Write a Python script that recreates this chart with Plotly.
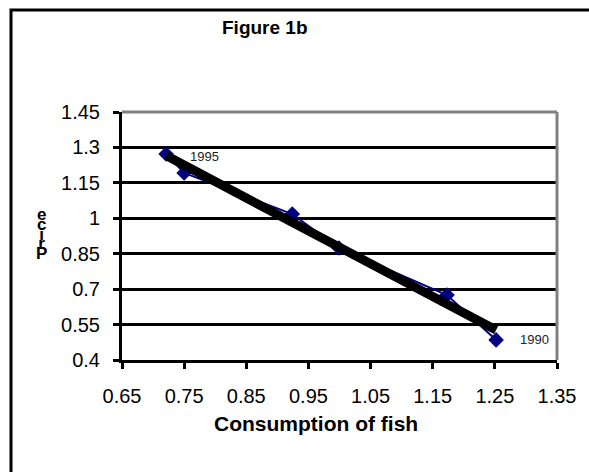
import numpy as np
import plotly.graph_objects as go

# Data
years = [1990, 1991, 1992, 1993, 1994, 1995]
consumption = [1.252, 1.173, 0.999, 0.924, 0.750, 0.721]
price = [0.485, 0.675, 0.874, 1.018, 1.192, 1.272]

x_ticks = [0.65, 0.75, 0.85, 0.95, 1.05, 1.15, 1.25, 1.35]
x_ticktext = ["0.65", "0.75", "0.85", "0.95", "1.05", "1.15", "1.25", "1.35"]
y_ticks = [0.4, 0.55, 0.7, 0.85, 1.0, 1.15, 1.3, 1.45]
y_ticktext = ["0.4", "0.55", "0.7", "0.85", "1", "1.15", "1.3", "1.45"]

title_text = "Figure 1b"
x_title = "Consumption of fish"
y_title = "Price"
point_labels = {1995: "1995", 1990: "1990"}

# Linear trend line (least squares, as in Excel)
slope, intercept = np.polyfit(consumption, price, 1)
trend_x = [min(consumption), max(consumption)]
trend_y = [slope * v + intercept for v in trend_x]

FONT = "Liberation Sans, Arial, sans-serif"
W, H = 589, 472
L, R, T, B = 122, 32, 112, 112
pw, ph = W - L - R, H - T - B


def px_to_paper(px, py):
    return (px - L) / pw, (H - B - py) / ph


fig = go.Figure()
fig.add_trace(go.Scatter(
    x=consumption, y=price, mode="lines+markers",
    line=dict(color="#000080", width=2),
    marker=dict(symbol="diamond", size=12, color="#000080"),
    showlegend=False, hoverinfo="skip",
))
fig.add_trace(go.Scatter(
    x=trend_x, y=trend_y, mode="lines",
    line=dict(color="black", width=9),
    showlegend=False, hoverinfo="skip",
))

annotations = []
for yr, lab in point_labels.items():
    i = years.index(yr)
    annotations.append(dict(
        x=consumption[i], y=price[i], xref="x", yref="y", text=lab,
        showarrow=False, xanchor="left", yanchor="middle",
        xshift=22, yshift=-2 if yr == 1995 else 0,
        font=dict(family=FONT, size=13, color="#222222"),
    ))

tx, ty = px_to_paper(265, 27)
annotations.append(dict(x=tx, y=ty, xref="paper", yref="paper", text="<b>%s</b>" % title_text,
                        showarrow=False, xanchor="center", yanchor="middle",
                        font=dict(family=FONT, size=19, color="black")))
ax, ay = px_to_paper(316, 423)
annotations.append(dict(x=ax, y=ay, xref="paper", yref="paper", text="<b>%s</b>" % x_title,
                        showarrow=False, xanchor="center", yanchor="middle",
                        font=dict(family=FONT, size=21, color="black")))

# Stacked y-axis title: letters upright, read bottom to top, tightly packed
stack = "<br>".join("<span style='font-size:17px'><b>%s</b></span>" % ch for ch in reversed(y_title))
lx, ly = px_to_paper(41, 234)
annotations.append(dict(x=lx, y=ly, xref="paper", yref="paper", text=stack,
                        showarrow=False, xanchor="center", yanchor="middle", align="center",
                        font=dict(family=FONT, size=7.5, color="black")))

fx0, fy0 = px_to_paper(11, 10)
shapes = [
    # outer chart frame (left/top visible)
    dict(type="rect", xref="paper", yref="paper", x0=fx0, y0=fy0, x1=1.5, y1=-1.0,
         line=dict(color="black", width=3), layer="below"),
    # grey plot-area border top and right
    dict(type="line", xref="paper", yref="paper", x0=0, x1=1, y0=1, y1=1,
         line=dict(color="#808080", width=3), layer="above"),
    dict(type="line", xref="paper", yref="paper", x0=1, x1=1, y0=0, y1=1,
         line=dict(color="#808080", width=3), layer="above"),
]

fig.update_layout(
    width=W, height=H,
    margin=dict(l=L, r=R, t=T, b=B),
    paper_bgcolor="white", plot_bgcolor="white",
    font=dict(family=FONT, size=16, color="black"),
    annotations=annotations, shapes=shapes,
    xaxis=dict(range=[0.65, 1.35], tickvals=x_ticks, ticktext=x_ticktext,
               showgrid=False, zeroline=False, showline=True, linecolor="black", linewidth=3,
               ticks="outside", ticklen=6, tickwidth=3, tickcolor="black",
               ticklabelstandoff=10, tickfont=dict(family=FONT, size=20, color="black")),
    yaxis=dict(range=[0.4, 1.45], tickvals=y_ticks, ticktext=y_ticktext,
               showgrid=True, gridcolor="black", gridwidth=3, zeroline=False,
               showline=True, linecolor="black", linewidth=3,
               ticks="outside", ticklen=6, tickwidth=3, tickcolor="black",
               ticklabelstandoff=9, tickfont=dict(family=FONT, size=20, color="black")),
)

fig.write_html("out.html", config={"displayModeBar": False},
               post_script="document.body.style.margin='0';")
